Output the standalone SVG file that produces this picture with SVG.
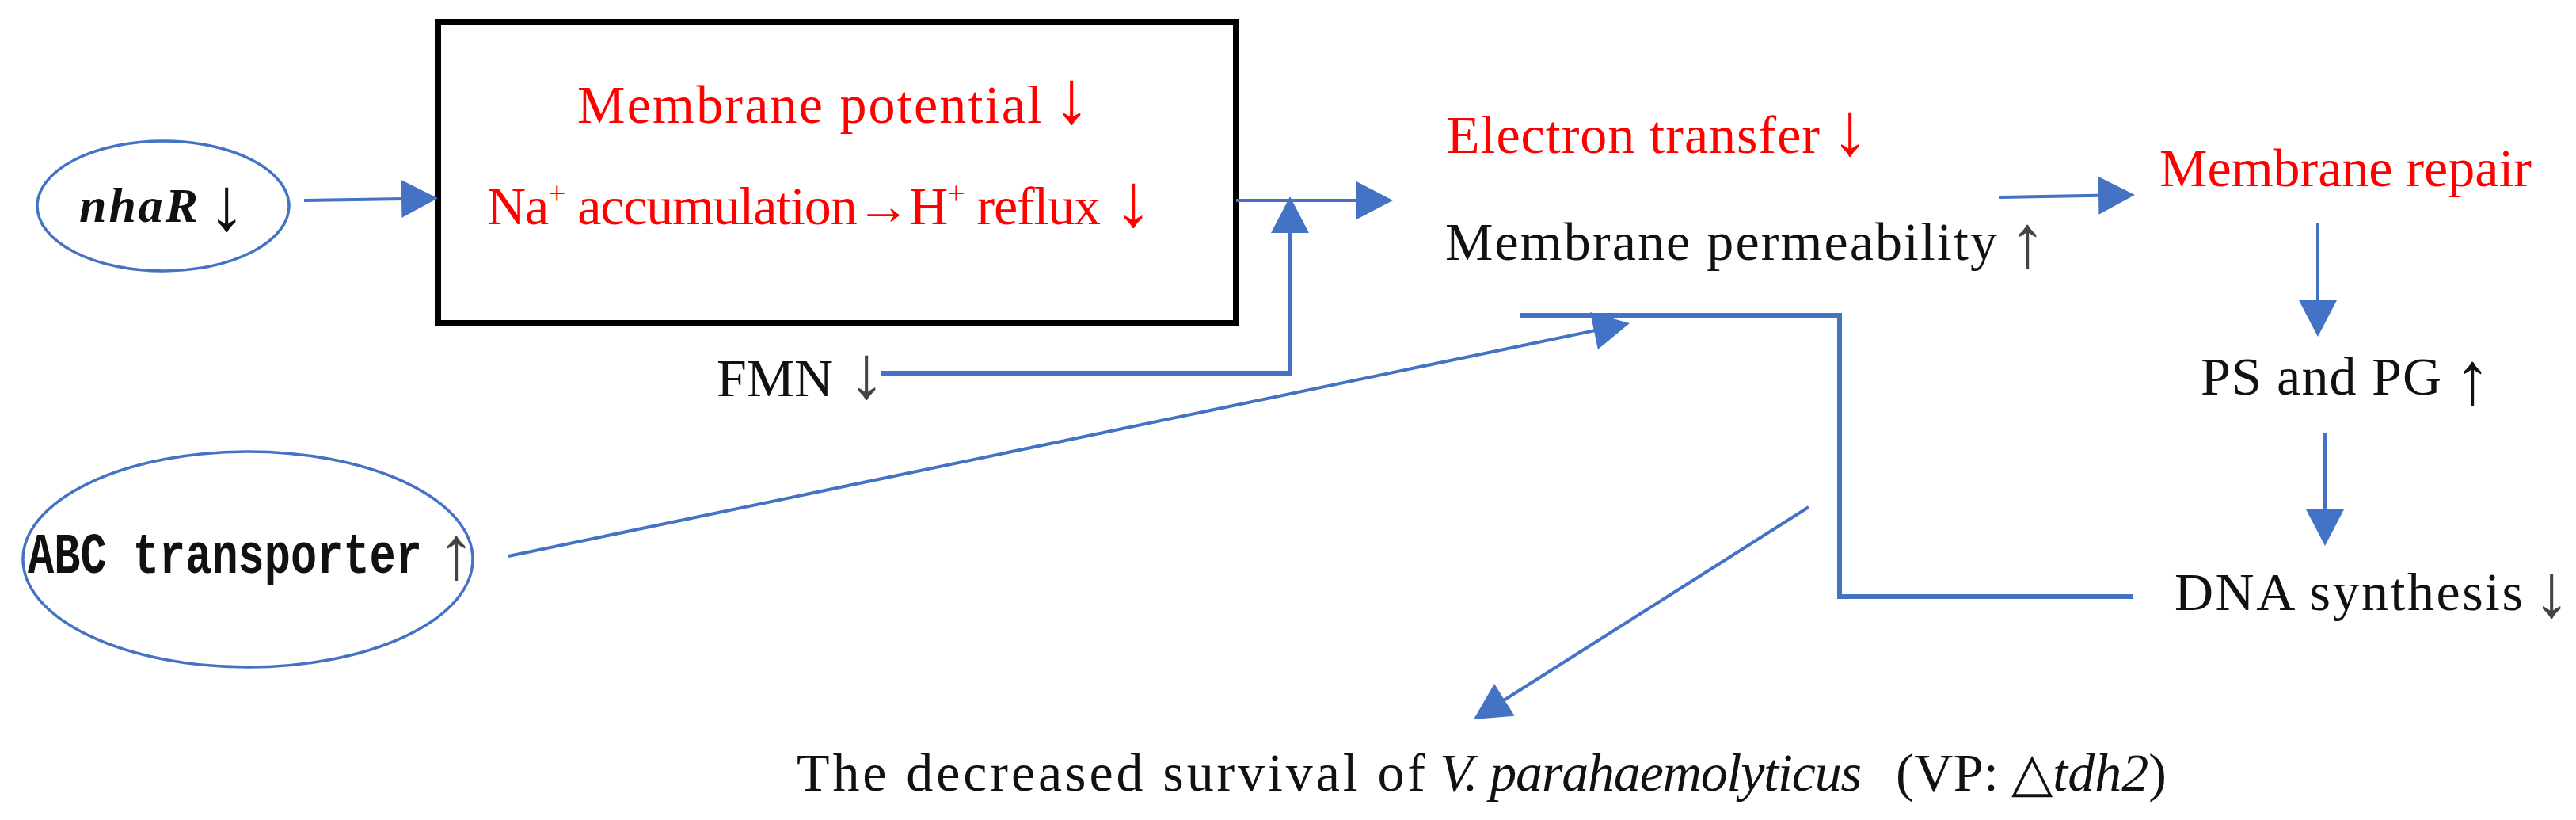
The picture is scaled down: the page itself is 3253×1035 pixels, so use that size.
<svg xmlns="http://www.w3.org/2000/svg" width="3253" height="1035" viewBox="0 0 3253 1035">
<style>
.serif{font-family:"Liberation Serif","DejaVu Serif",serif;font-size:68px}
.red{fill:#ff0000}
.blk{fill:#111111}
.gry{fill:#444444}
.arw{font-family:"Liberation Serif","DejaVu Serif",serif;font-size:95px;text-anchor:middle}
.node{fill:none;stroke:#4472c4;stroke-width:3.5}
.thin{fill:none;stroke:#4472c4;stroke-width:4}
.thick{fill:none;stroke:#4472c4;stroke-width:6}
.mono{font-family:"Liberation Mono","DejaVu Sans Mono",monospace;font-weight:bold;font-size:56px}
</style>
<defs>
<marker id="ah" markerUnits="userSpaceOnUse" markerWidth="46" markerHeight="48" refX="26" refY="24" orient="auto" overflow="visible">
<path d="M0,0 L46,24 L0,48 z" fill="#4472c4"/>
</marker>
</defs>
<rect width="3253" height="1035" fill="#ffffff"/>

<g id="nhaR">
<ellipse class="node" cx="206" cy="260" rx="159" ry="82"/>
<text x="100" y="280" font-family="Liberation Serif, DejaVu Serif, serif" font-size="62" font-weight="bold" font-style="italic" textLength="150" fill="#111">nhaR</text>
<text class="arw blk" x="286" y="290">↓</text>
</g>

<g id="membrane-box">
<rect x="553" y="28" width="1008" height="380" fill="none" stroke="#000" stroke-width="8"/>
<text class="serif red" x="729" y="155" textLength="587">Membrane potential</text>
<text class="arw red" x="1353" y="155">↓</text>
<text class="serif red" x="615" y="283" textLength="775">Na<tspan font-size="40" dy="-26">+</tspan><tspan dy="26"> accumulation→H</tspan><tspan font-size="40" dy="-26">+</tspan><tspan dy="26"> reflux</tspan></text>
<text class="arw red" x="1431" y="285">↓</text>
</g>

<g id="fmn">
<text class="serif blk" x="905" y="500" textLength="147">FMN</text>
<text class="arw gry" x="1094" y="502">↓</text>
</g>

<g id="abc">
<ellipse class="node" cx="313" cy="706" rx="284" ry="136"/>
<text class="mono" x="35" y="723" textLength="498" lengthAdjust="spacingAndGlyphs" fill="#111" transform="translate(0,723) scale(1,1.3) translate(0,-723)">ABC transporter</text>
<text class="arw gry" x="576" y="730" font-size="82">↑</text>
</g>

<g id="electron">
<text class="serif red" x="1827" y="193" textLength="471">Electron transfer</text>
<text class="arw red" x="2336" y="195">↓</text>
</g>

<g id="permeability">
<text class="serif blk" x="1825" y="328" textLength="697">Membrane permeability</text>
<text class="arw gry" x="2560" y="337">↑</text>
</g>

<g id="repair">
<text class="serif red" x="2727" y="235" textLength="470">Membrane repair</text>
</g>

<g id="psg">
<text class="serif blk" x="2779" y="498" textLength="304">PS and PG</text>
<text class="arw blk" x="3122" y="510">↑</text>
</g>

<g id="dna">
<text class="serif blk" x="2746" y="770" textLength="440">DNA synthesis</text>
<text class="arw gry" x="3222" y="778">↓</text>
</g>

<g id="survival">
<text class="serif blk" x="1006" y="998" textLength="794">The decreased survival of</text>
<text class="serif blk" x="1818" y="998" font-style="italic" textLength="533">V. parahaemolyticus</text>
<text class="serif blk" x="2394" y="998" textLength="130">(VP:</text>
<text class="serif blk" x="2540" y="998">△<tspan font-style="italic">tdh2</tspan>)</text>
</g>

<g id="connectors">
<path class="thin" d="M384,253 L533,250.5" marker-end="url(#ah)"/>
<path class="thin" d="M1561,253 L1739,253" marker-end="url(#ah)"/>
<path class="thick" d="M1112,471 H1629 V268" marker-end="url(#ah)"/>
<path class="thin" d="M642,702 L2038.4,412.1" marker-end="url(#ah)"/>
<path class="thin" d="M2524,249 L2676,246.3" marker-end="url(#ah)"/>
<path class="thin" d="M2927,282 V405" marker-end="url(#ah)"/>
<path class="thin" d="M2936,546 V669" marker-end="url(#ah)"/>
<path class="thick" d="M1919,398 H2323 V753 H2693"/>
<path class="thin" d="M2284,640 L1877.9,897.3" marker-end="url(#ah)"/>
</g>
</svg>
